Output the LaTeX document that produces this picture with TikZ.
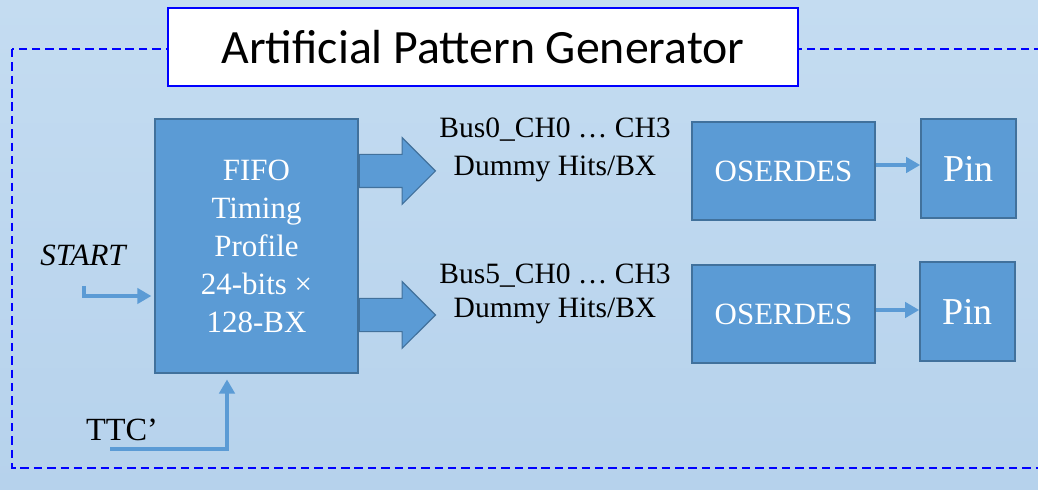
\documentclass[tikz,border=0pt]{standalone}
\usepackage{fontspec}
\setmainfont{Liberation Serif}
\newfontfamily\titlefont{Carlito}
\usepackage{tikz}
\usetikzlibrary{arrows.meta,calc,positioning,shapes.arrows}
\definecolor{bgtop}{RGB}{196,220,241}
\definecolor{bgbot}{RGB}{182,210,236}
\definecolor{blockfill}{RGB}{91,155,213}
\definecolor{blockline}{RGB}{65,113,156}
\definecolor{framecol}{RGB}{0,0,255}

\begin{document}
\begin{tikzpicture}[x=0.025cm, y=-0.025cm,
  block/.style={draw=blockline, fill=blockfill, line width=1.2pt, text=white, align=center, inner sep=0pt},
  flow/.style={draw=blockfill, line width=2.2pt, -{Triangle[length=10pt,width=11pt]}},
  fatarrow/.style={single arrow, draw=blockline, fill=blockfill, line width=0.8pt,
    minimum height=1.9cm, inner xsep=0pt, inner ysep=0.4cm,
    single arrow head extend=0.42cm, anchor=tail},
  lbl/.style={font=\fontsize{21}{27}\selectfont, align=center}]

\useasboundingbox (0,0) rectangle (1038,490);
\clip (0,0) rectangle (1038,490);
\fill[top color=bgtop, bottom color=bgbot] (0,0) rectangle (1038,490);

% dashed frame of the generator
\draw[framecol, line width=1.4pt, dash pattern=on 6pt off 3.5pt] (12,49) rectangle (1070,468);
\node[draw=framecol, fill=white, line width=1pt, minimum width=15.75cm, minimum height=1.95cm,
  font=\titlefont\fontsize{34}{40}\selectfont] (title) at (483,47) {Artificial Pattern Generator};

% blocks
\node[block, minimum width=5.075cm, minimum height=6.35cm, font=\fontsize{22}{27}\selectfont]
  (fifo) at (256.5,246) {FIFO\\Timing\\Profile\\24-bits ×\\128-BX};
\node[block, minimum width=4.575cm, minimum height=2.45cm, font=\fontsize{22}{26}\selectfont]
  (os0) at (783.5,171) {OSERDES};
\node[block, minimum width=4.575cm, minimum height=2.45cm, font=\fontsize{22}{26}\selectfont]
  (os5) at (783.5,314) {OSERDES};
\node[block, minimum width=2.375cm, minimum height=2.475cm, font=\fontsize{27}{30}\selectfont]
  (pin0) at (968.5,168.5) {Pin};
\node[block, minimum width=2.375cm, minimum height=2.475cm, font=\fontsize{27}{30}\selectfont]
  (pin5) at (967.5,311.5) {Pin};

% bus outputs
\node[fatarrow] (out0) at ($(fifo.east)+(0,-75)$) {};
\node[fatarrow] (out5) at ($(fifo.east)+(0,69)$) {};
\node[lbl] (bus0) at (555,150) {Bus0\_CH0 … CH3\\Dummy Hits/BX};
\node[lbl, font=\fontsize{21}{24}\selectfont] (bus5) at (555,294) {Bus5\_CH0 … CH3\\Dummy Hits/BX};

\draw[flow] ([yshift=0.15cm]os0.east) -- ([yshift=0.15cm]os0.east -| pin0.west);
\draw[flow] ([yshift=0.1cm]os5.east) -- ([yshift=0.1cm]os5.east -| pin5.west);

% inputs
\node[font=\itshape\fontsize{22}{26}\selectfont] (start) at (83,255) {START};
\node[font=\fontsize{23}{26}\selectfont] (ttc) at (122,430) {TTC’};
\coordinate (stin) at (84,286);
\coordinate (ttcin) at (110,449);
\draw[flow, shorten >=2pt] (stin) |- ($(fifo.west)+(0,50)$);
\draw[flow, shorten >=4pt] (ttcin) -| ($(fifo.south)+(-29.5,0)$);

\end{tikzpicture}
\end{document}
